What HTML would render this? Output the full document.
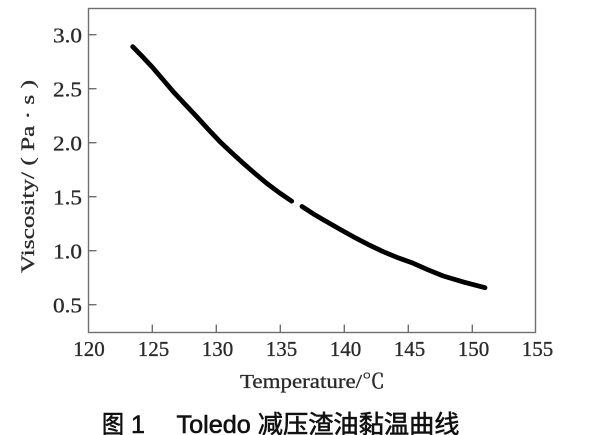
<!DOCTYPE html>
<html><head><meta charset="utf-8"><style>
html,body{margin:0;padding:0;background:#fff;}
svg{display:block;}
</style></head><body>
<svg width="608" height="435" viewBox="0 0 608 435" xmlns="http://www.w3.org/2000/svg">
<rect x="0" y="0" width="608" height="435" fill="#fff"/>
<!-- frame -->
<rect x="88.5" y="8.5" width="447" height="324" fill="none" stroke="#6e6e6e" stroke-width="1.4"/>
<!-- y ticks -->
<g stroke="#6e6e6e" stroke-width="1.4">
<line x1="88.5" y1="34.7" x2="96.5" y2="34.7"/>
<line x1="88.5" y1="88.7" x2="96.5" y2="88.7"/>
<line x1="88.5" y1="142.7" x2="96.5" y2="142.7"/>
<line x1="88.5" y1="196.7" x2="96.5" y2="196.7"/>
<line x1="88.5" y1="250.7" x2="96.5" y2="250.7"/>
<line x1="88.5" y1="304.7" x2="96.5" y2="304.7"/>
<!-- x ticks -->
<line x1="152.3" y1="332.5" x2="152.3" y2="324.5"/>
<line x1="216.3" y1="332.5" x2="216.3" y2="324.5"/>
<line x1="280.3" y1="332.5" x2="280.3" y2="324.5"/>
<line x1="344.3" y1="332.5" x2="344.3" y2="324.5"/>
<line x1="408.3" y1="332.5" x2="408.3" y2="324.5"/>
<line x1="472.3" y1="332.5" x2="472.3" y2="324.5"/>
</g>
<!-- y tick labels -->
<g font-family="Liberation Serif, serif" font-size="21" fill="#2a2a2a" stroke="#2a2a2a" stroke-width="0.3" text-anchor="end">
<text x="82" y="42.7" textLength="29" lengthAdjust="spacingAndGlyphs">3.0</text>
<text x="82" y="96.7" textLength="29" lengthAdjust="spacingAndGlyphs">2.5</text>
<text x="82" y="150.7" textLength="29" lengthAdjust="spacingAndGlyphs">2.0</text>
<text x="82" y="204.7" textLength="29" lengthAdjust="spacingAndGlyphs">1.5</text>
<text x="82" y="258.7" textLength="29" lengthAdjust="spacingAndGlyphs">1.0</text>
<text x="82" y="312.7" textLength="29" lengthAdjust="spacingAndGlyphs">0.5</text>
</g>
<!-- x tick labels -->
<g font-family="Liberation Serif, serif" font-size="21" fill="#2a2a2a" stroke="#2a2a2a" stroke-width="0.3" text-anchor="middle">
<text x="89" y="356">120</text>
<text x="153.5" y="356">125</text>
<text x="217.5" y="356">130</text>
<text x="281.5" y="356">135</text>
<text x="345.5" y="356">140</text>
<text x="409.5" y="356">145</text>
<text x="473.5" y="356">150</text>
<text x="537.5" y="356">155</text>
</g>
<!-- axis titles -->
<text x="240" y="388" font-family="Liberation Serif, 'Noto Serif CJK SC', serif" font-size="20" fill="#2a2a2a" stroke="#2a2a2a" stroke-width="0.3" textLength="145" lengthAdjust="spacingAndGlyphs">Temperature/℃</text>
<text transform="translate(34,273) rotate(-90)" x="0" y="0" font-family="Liberation Serif, 'Noto Serif CJK SC', serif" font-size="19" fill="#2a2a2a" stroke="#2a2a2a" stroke-width="0.3" textLength="193" lengthAdjust="spacingAndGlyphs">Viscosity/ ( Pa · s )</text>
<!-- curve -->
<g fill="none" stroke="#000" stroke-width="4.8" stroke-linecap="round" stroke-linejoin="round">
<polyline points="132.7,46.7 143,57.2 153.3,68.3 163.3,80 173.3,91.7 185,104.3 196.7,116.7 208.3,129.4 220,141.7 231.7,152.7 243.3,163.3 255,173.5 266.7,183.3 279,192.5 291.7,201.2"/>
<polyline points="302,206.5 314,214.3 326.7,221.7 340,229.3 353.3,236.7 368,244.4 383.3,251.7 398,257.8 413.3,263.3 428,269.8 443.3,276 464,282.2 485,287.7"/>
</g>
<!-- caption -->
<g font-family="Liberation Sans, 'Noto Sans CJK SC', sans-serif" font-size="25" fill="#111" stroke="#111" stroke-width="0.6">
<text x="102" y="433" textLength="22" lengthAdjust="spacingAndGlyphs">图</text>
<text x="131" y="433">1</text>
<text x="176.5" y="433" textLength="283" lengthAdjust="spacingAndGlyphs">Toledo 减压渣油黏温曲线</text>
</g>
</svg>
</body></html>
